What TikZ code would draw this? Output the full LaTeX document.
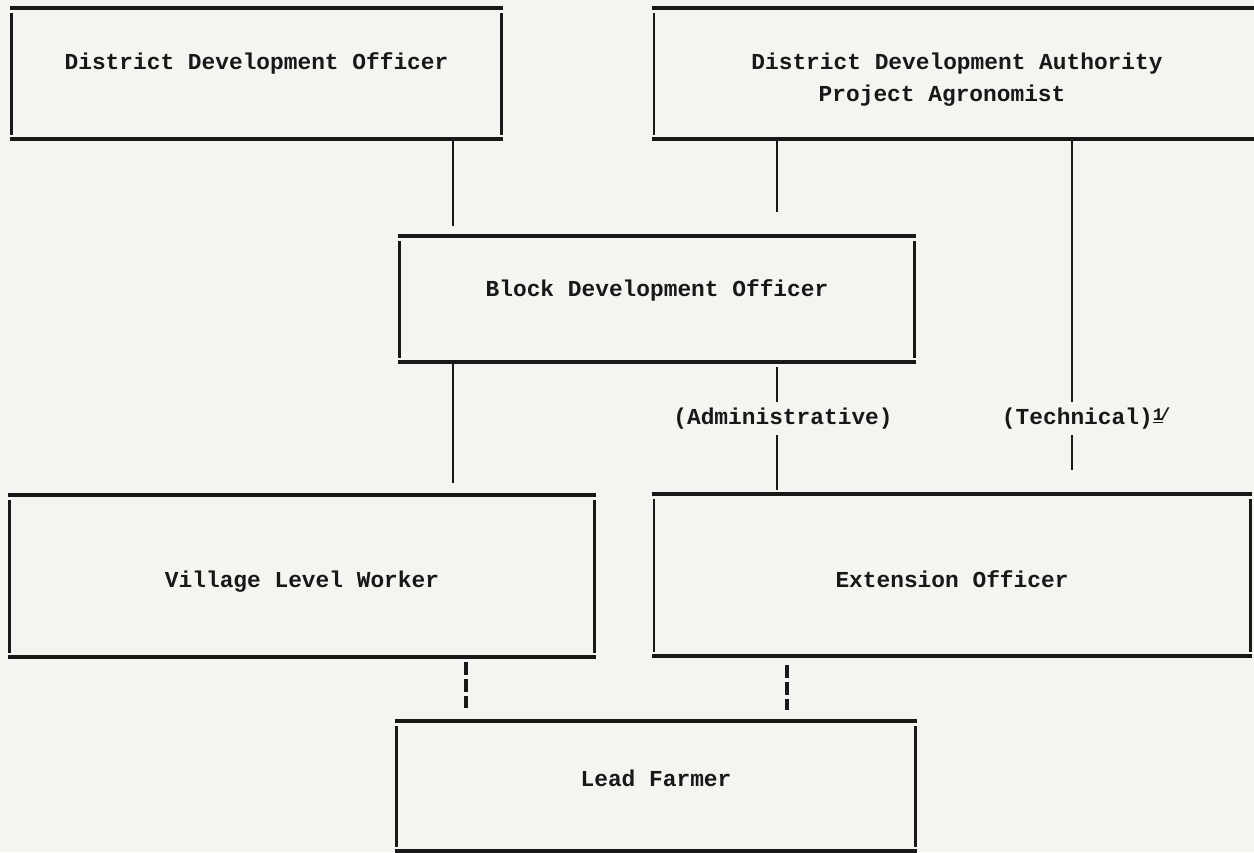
\documentclass[tikz,border=0pt]{standalone}
\usepackage{fontspec}
\setmonofont{Liberation Mono}
\usepackage{xcolor}
\usepackage{tikz}
\definecolor{ink}{RGB}{24,24,24}
\definecolor{paper}{RGB}{244,244,241}
\tikzset{
    tnode/.style = {align=center, inner sep=0pt, outer sep=0pt, text centered, text=ink,
        font=\ttfamily\bfseries\fontsize{13}{18}\selectfont},
    post_node/.style 2 args = {tnode, rectangle, minimum width=#1cm, minimum height=#2cm},
    label_node/.style = {tnode, inner sep=3.4pt},
    top_rule/.style = {draw=ink, line width=2.3pt},
    side_rule/.style = {draw=ink, line width=1.5pt},
    edge_line/.style = {draw=ink, line width=1.2pt},
    dash_line/.style = {draw=ink, line width=2pt, dash pattern=on 7.4pt off 2.3pt}
}

\begin{document}
\begin{tikzpicture}[x=0.02cm, y=-0.02cm]
    \useasboundingbox (0,0) rectangle (1254,852);
    \clip (0,0) rectangle (1254,852);
    \fill[paper] (0,0) rectangle (1254,852);

    % boxes
    \node[post_node={9.86}{2.62}, text depth=13.8pt] (ddo) at (256.5,73.5) {District Development Officer};
    \node[post_node={12.2}{2.62}, text height=33.8pt, text depth=2pt] (dda) at (957,73.5) {District Development Authority\\Project Agronomist\kern17pt\relax};
    \node[post_node={10.36}{2.52}, text depth=12.1pt] (bdo) at (657,299) {Block Development Officer};
    \node[post_node={11.76}{3.24}, text height=16pt] (vlw) at (302,576) {Village Level Worker};
    \node[post_node={12}{3.24}, text height=14.3pt, text depth=0pt] (ext) at (952,575) {Extension Officer};
    \node[post_node={10.44}{2.6}, text depth=8.7pt] (lead) at (656,786) {Lead Farmer};

    \foreach \b in {ddo,dda,bdo,vlw,ext,lead}{
        \draw[top_rule] (\b.north west) -- (\b.north east);
        \draw[top_rule] (\b.south west) -- (\b.south east);
        \draw[side_rule] ([xshift=1pt,yshift=-3pt]\b.north west) -- ([xshift=1pt,yshift=2pt]\b.south west);
        \draw[side_rule] ([xshift=-1pt,yshift=-3pt]\b.north east) -- ([xshift=-1pt,yshift=2pt]\b.south east);
    }

    % labels on the lines
    \node[label_node, anchor=base] (adm) at (783,424.6) {(Administrative)};
    \node[label_node, anchor=base west] (tech) at (996,424.6)
        {(Technical)\raisebox{2.5pt}{\fontsize{10}{10}\selectfont\underline{1}\kern-2pt/}};

    % columns of the connectors
    \coordinate (colA) at (453,0);
    \coordinate (colB) at (777,0);
    \coordinate (colT) at (1072,0);
    \coordinate (colD1) at (466,0);
    \coordinate (colD2) at (787,0);
    \coordinate (techend) at (1072,470);

    \draw[edge_line, shorten >=5.7pt] (ddo.south -| colA) -- (bdo.north -| colA);
    \draw[edge_line, shorten >=13.6pt] (dda.south -| colB) -- (bdo.north -| colB);
    \draw[edge_line, shorten >=6.8pt] (bdo.south -| colA) -- (vlw.north -| colA);
    \draw[edge_line, shorten <=3pt] (bdo.south -| colB) -- (adm.north -| colB);
    \draw[edge_line, shorten >=2.5pt] (adm.south -| colB) -- (ext.north -| colB);
    \draw[edge_line] (dda.south -| colT) -- (tech.north -| colT);
    \draw[edge_line] (tech.south -| colT) -- (techend);
    \draw[dash_line, shorten <=2.8pt, shorten >=7.4pt] (vlw.south -| colD1) -- (lead.north -| colD1);
    \draw[dash_line, shorten <=5pt, shorten >=6.2pt] (ext.south -| colD2) -- (lead.north -| colD2);
\end{tikzpicture}
\end{document}
